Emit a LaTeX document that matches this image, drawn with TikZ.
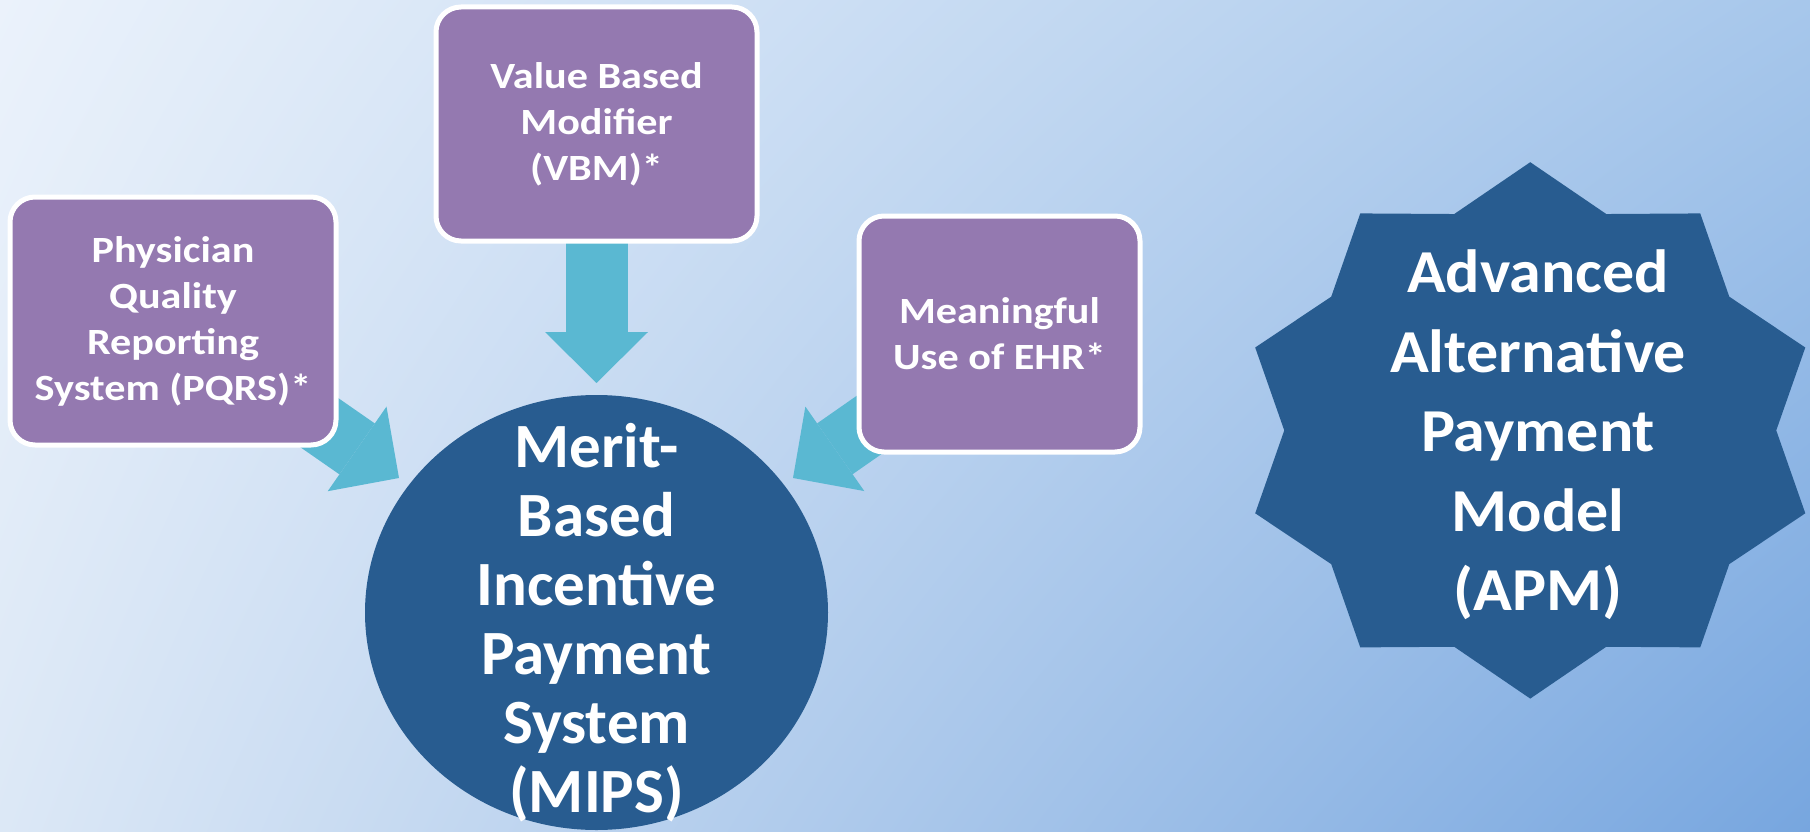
\documentclass[tikz,border=0pt]{standalone}
\usepackage{fontspec}
\setmainfont{Carlito}
\newfontfamily\boxfont[FakeStretch=1.14]{Carlito}
\newfontfamily\apmfont[FakeStretch=1.05]{Carlito}
\usetikzlibrary{arrows.meta,shadings}

\definecolor{boxpurple}{HTML}{9479B0}
\definecolor{deepblue}{HTML}{285C90}
\definecolor{flowcyan}{HTML}{5AB8D2}
\definecolor{bgTL}{HTML}{EBF2FB}
\definecolor{bgTR}{HTML}{A7C7EB}
\definecolor{bgBL}{HTML}{DCE8F6}
\definecolor{bgBR}{HTML}{77A6DF}

\begin{document}
\begin{tikzpicture}[x=1pt,y=-1pt,
  srcbox/.style={draw=white, line width=5pt, fill=boxpurple,
    rounded corners=25pt, inner sep=0pt, text=white, align=center,
    font=\boxfont\bfseries\fontsize{37}{46}\selectfont},
  flow/.style={draw=flowcyan, line width=62pt, line cap=butt,
    -{Triangle[width=103pt,length=51pt,line width=0pt]}},
  bigtext/.style={text=white, align=center, inner sep=0pt}]

% page and background
\useasboundingbox (0,0) rectangle (1810,832);
\shade[upper left=bgTL, upper right=bgTR, lower left=bgBL, lower right=bgBR]
  (0,0) rectangle (1810,832);

% anchor points
\coordinate (pqrs-c) at (173,321);
\coordinate (vbm-c)  at (596.5,124);
\coordinate (ehr-c)  at (999.5,334);
\coordinate (tipL) at (399,478);
\coordinate (tipD) at (596.5,383);
\coordinate (tipR) at (793,478);

% block arrows into MIPS
\draw[flow] (pqrs-c) -- (tipL);
\draw[flow] (vbm-c) -- (tipD);
\draw[flow] (ehr-c) -- (tipR);

% source programmes
\node[srcbox, minimum width=326pt, minimum height=248pt] (pqrs) at (pqrs-c)
  {Physician\\Quality\\Reporting\\System (PQRS)*};
\node[srcbox, minimum width=321pt, minimum height=234pt] (vbm) at (vbm-c)
  {Value Based\\Modifier\\(VBM)*};
\node[srcbox, minimum width=281pt, minimum height=236pt] (ehr) at (ehr-c)
  {Meaningful\\Use of EHR*};

% MIPS
\fill[deepblue] (596.5,612.5) ellipse [x radius=231.5, y radius=217.5];
\node[bigtext, font=\bfseries\fontsize{63}{69}\selectfont] (mips) at (596.5,623)
  {Merit-\\Based\\Incentive\\Payment\\System\\(MIPS)};

% APM seal: ten-pointed star
\def\ro{289.2 and 268.2}
\def\ri{246 and 227.5}
\fill[deepblue, shift={(1530.25,430.4)}]
  (90:\ro) -- (72:\ri) -- (54:\ro) -- (36:\ri) -- (18:\ro) -- (0:\ri)
  -- (-18:\ro) -- (-36:\ri) -- (-54:\ro) -- (-72:\ri) -- (-90:\ro) -- (-108:\ri)
  -- (-126:\ro) -- (-144:\ri) -- (-162:\ro) -- (180:\ri) -- (162:\ro) -- (144:\ri)
  -- (126:\ro) -- (108:\ri) -- cycle;
\node[bigtext, font=\apmfont\bfseries\fontsize{61}{79.5}\selectfont] (apm) at (1538,435)
  {Advanced\\Alternative\\Payment\\Model\\(APM)};
\end{tikzpicture}
\end{document}
